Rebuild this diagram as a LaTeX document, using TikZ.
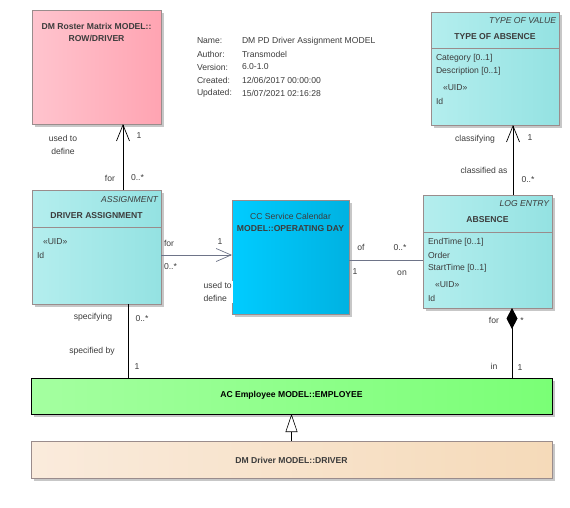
\documentclass[tikz,border=0pt]{standalone}
\usepackage{fontspec}
\setmainfont{Liberation Sans}
\usetikzlibrary{arrows.meta,shadows,calc}
\definecolor{txt}{HTML}{3C3C3C}
\definecolor{bord}{HTML}{9A8C8C}
\definecolor{conn}{HTML}{6E7488}
\tikzset{
  every node/.style={font=\fontsize{8.6}{10}\selectfont, text=txt, inner sep=0pt, outer sep=0pt},
  umlbox/.style={draw=bord, line width=0.6pt, anchor=north west, shading=axis, shading angle=90,
     drop shadow={shadow xshift=3pt, shadow yshift=-3pt, fill=black!22, opacity=1}},
  ttl/.style={font=\fontsize{8.6}{10}\selectfont\bfseries},
  stereo/.style={font=\fontsize{8.6}{10}\selectfont\itshape, anchor=east},
  attr/.style={anchor=west},
  assoc/.style={draw=black, line width=0.7pt},
  gassoc/.style={draw=conn, line width=0.7pt},
  navtip/.style={-{Straight Barb[length=16pt,width=13pt,line width=0.7pt]}},
}
\begin{document}
\begin{tikzpicture}[x=1pt,y=-1pt]
\useasboundingbox (0,0) rectangle (570,507);

% ROW/DRIVER
\node[umlbox, left color={rgb,255:red,255;green,196;blue,206}, right color={rgb,255:red,255;green,164;blue,178}, minimum width=129pt, minimum height=114pt] (row) at (32,10) {};
\node[ttl] (rowt1) at (96.5,26) {DM Roster Matrix MODEL::};
\node[ttl] (rowt2) at (96.5,38.5) {ROW/DRIVER};

% metadata
\node[anchor=west] (mk1) at (197,41) {Name:};
\node[anchor=west] (mk2) at (197,54) {Author:};
\node[anchor=west] (mk3) at (197,67) {Version:};
\node[anchor=west] (mk4) at (197,80) {Created:};
\node[anchor=west] (mk5) at (197,93) {Updated:};
\node[anchor=west] (mv1) at (242,41) {DM PD Driver Assignment MODEL};
\node[anchor=west] (mv2) at (242,54) {Transmodel};
\node[anchor=west] (mv3) at (242,67) {6.0-1.0};
\node[anchor=west] (mv4) at (242,80) {12/06/2017 00:00:00};
\node[anchor=west] (mv5) at (242,93) {15/07/2021 02:16:28};

% TYPE OF ABSENCE
\node[umlbox, left color={rgb,255:red,180;green,238;blue,238}, right color={rgb,255:red,148;green,226;blue,226}, minimum width=128pt, minimum height=113pt] (toa) at (431,12) {};
\draw[bord, line width=0.6pt] (toa.west |- 0,48) coordinate (toad1) -- (toa.east |- 0,48) coordinate (toad2);
\node[stereo] (toas) at (556,21) {TYPE OF VALUE};
\node[ttl] (toat) at (495,37) {TYPE OF ABSENCE};
\node[attr] (toa1) at (436,58) {Category [0..1]};
\node[attr] (toa2) at (436,71) {Description [0..1]};
\node[attr] (toa3) at (443,88) {«UID»};
\node[attr] (toa4) at (436,101) {Id};

% DRIVER ASSIGNMENT
\node[umlbox, left color={rgb,255:red,180;green,238;blue,238}, right color={rgb,255:red,148;green,226;blue,226}, minimum width=129pt, minimum height=114pt] (da) at (32,190) {};
\draw[bord, line width=0.6pt] (da.west |- 0,227) coordinate (dad1) -- (da.east |- 0,227) coordinate (dad2);
\node[stereo] (das) at (158,200) {ASSIGNMENT};
\node[ttl] (dat) at (96.5,216) {DRIVER ASSIGNMENT};
\node[attr] (da1) at (43,242) {«UID»};
\node[attr] (da2) at (37,255) {Id};

% CC
\node[umlbox, left color={rgb,255:red,0;green,204;blue,255}, right color={rgb,255:red,0;green,178;blue,226}, minimum width=117pt, minimum height=114pt] (cc) at (232,200) {};
\node[] (cct1) at (290.5,216) {CC Service Calendar};
\node[ttl] (cct2) at (290.5,229) {MODEL::OPERATING DAY};

% ABSENCE
\node[umlbox, left color={rgb,255:red,180;green,238;blue,238}, right color={rgb,255:red,148;green,226;blue,226}, minimum width=129pt, minimum height=113pt] (abs) at (423,195) {};
\draw[bord, line width=0.6pt] (abs.west |- 0,232) coordinate (absd1) -- (abs.east |- 0,232) coordinate (absd2);
\node[stereo] (abss) at (549,204) {LOG ENTRY};
\node[ttl] (abst) at (487.5,220) {ABSENCE};
\node[attr] (abs1) at (428,242) {EndTime [0..1]};
\node[attr] (abs2) at (428,255) {Order};
\node[attr] (abs3) at (428,268) {StartTime [0..1]};
\node[attr] (abs4) at (435,285) {«UID»};
\node[attr] (abs5) at (428,298) {Id};

% EMPLOYEE
\node[umlbox, draw=black, left color={rgb,255:red,164;green,255;blue,160}, right color={rgb,255:red,122;green,255;blue,118}, minimum width=521pt, minimum height=36pt] (emp) at (31,378) {};
\node[ttl, text=black] (empt) at (291.5,395.5) {AC Employee MODEL::EMPLOYEE};

% DRIVER
\node[umlbox, left color={rgb,255:red,250;green,235;blue,220}, right color={rgb,255:red,245;green,218;blue,185}, minimum width=521pt, minimum height=37pt] (drv) at (31,441) {};
\node[ttl] (drvt) at (291.5,460) {DM Driver MODEL::DRIVER};

% connectors
\coordinate (c1b) at ([xshift=26.5pt]da.north);
\coordinate (c1c) at ([xshift=26.5pt]row.south);
\draw[assoc, navtip] (c1b) -- (c1c);
\node (l1a) at (63,138) {used to};
\node (l1b) at (63,151) {define};
\node (l1c) at (139,136) {1};
\node (l1d) at (110,178) {for};
\node[anchor=west] (l1e) at (131,178) {0..*};

\coordinate (c2a) at (da.east |- 0,255);
\coordinate (c2b) at (cc.west |- 0,255);
\draw[gassoc, -{Straight Barb[length=15pt,width=13pt,line width=0.7pt]}] (c2a) -- (c2b);
\node[anchor=west] (l2a) at (164,243) {for};
\node (l2b) at (220,242) {1};
\node[anchor=west] (l2c) at (164,267) {0..*};
\node[fill=white, inner sep=1.5pt, align=left, anchor=north west, font=\fontsize{8.6}{13}\selectfont] (l2d) at (202,280.5) {used to\\define};

\coordinate (c3a) at (cc.east |- 0,260);
\coordinate (c3b) at (abs.west |- 0,260);
\draw[gassoc] (c3a) -- (c3b);
\node (l3a) at (361,247) {of};
\node (l3b) at (400,248) {0..*};
\node (l3c) at (355,272) {1};
\node (l3d) at (402,273) {on};

\coordinate (c4a) at ([xshift=25.5pt]abs.north);
\coordinate (c4b) at ([xshift=18pt]toa.south);
\draw[assoc, navtip] (c4a) -- (c4b);
\node (l4a) at (475,139) {classifying};
\node (l4b) at (530,138) {1};
\node (l4c) at (484,170) {classified as};
\node (l4d) at (528,180) {0..*};

\coordinate (c5a) at ([xshift=24.5pt]abs.south);
\coordinate (c5b) at (emp.north -| c5a);
\draw[assoc, {Diamond[length=21pt,width=11pt,fill=black]}-] (c5a) -- (c5b);
\node (l5a) at (494,320) {for};
\node (l5b) at (522,321) {*};
\node (l5c) at (494,366) {in};
\node (l5d) at (520,368) {1};

\coordinate (c6a) at ([xshift=31.5pt]da.south);
\coordinate (c6b) at (emp.north -| c6a);
\draw[assoc] (c6a) -- (c6b);
\node (l6a) at (93,317) {specifying};
\node (l6b) at (142,319) {0..*};
\node (l6c) at (92,351) {specified by};
\node (l6d) at (137,367) {1};

\draw[assoc, line width=0.6pt, -{Triangle[open, length=18pt, width=12pt, fill=white]}] (drv.north) -- (emp.south);
\end{tikzpicture}
\end{document}
